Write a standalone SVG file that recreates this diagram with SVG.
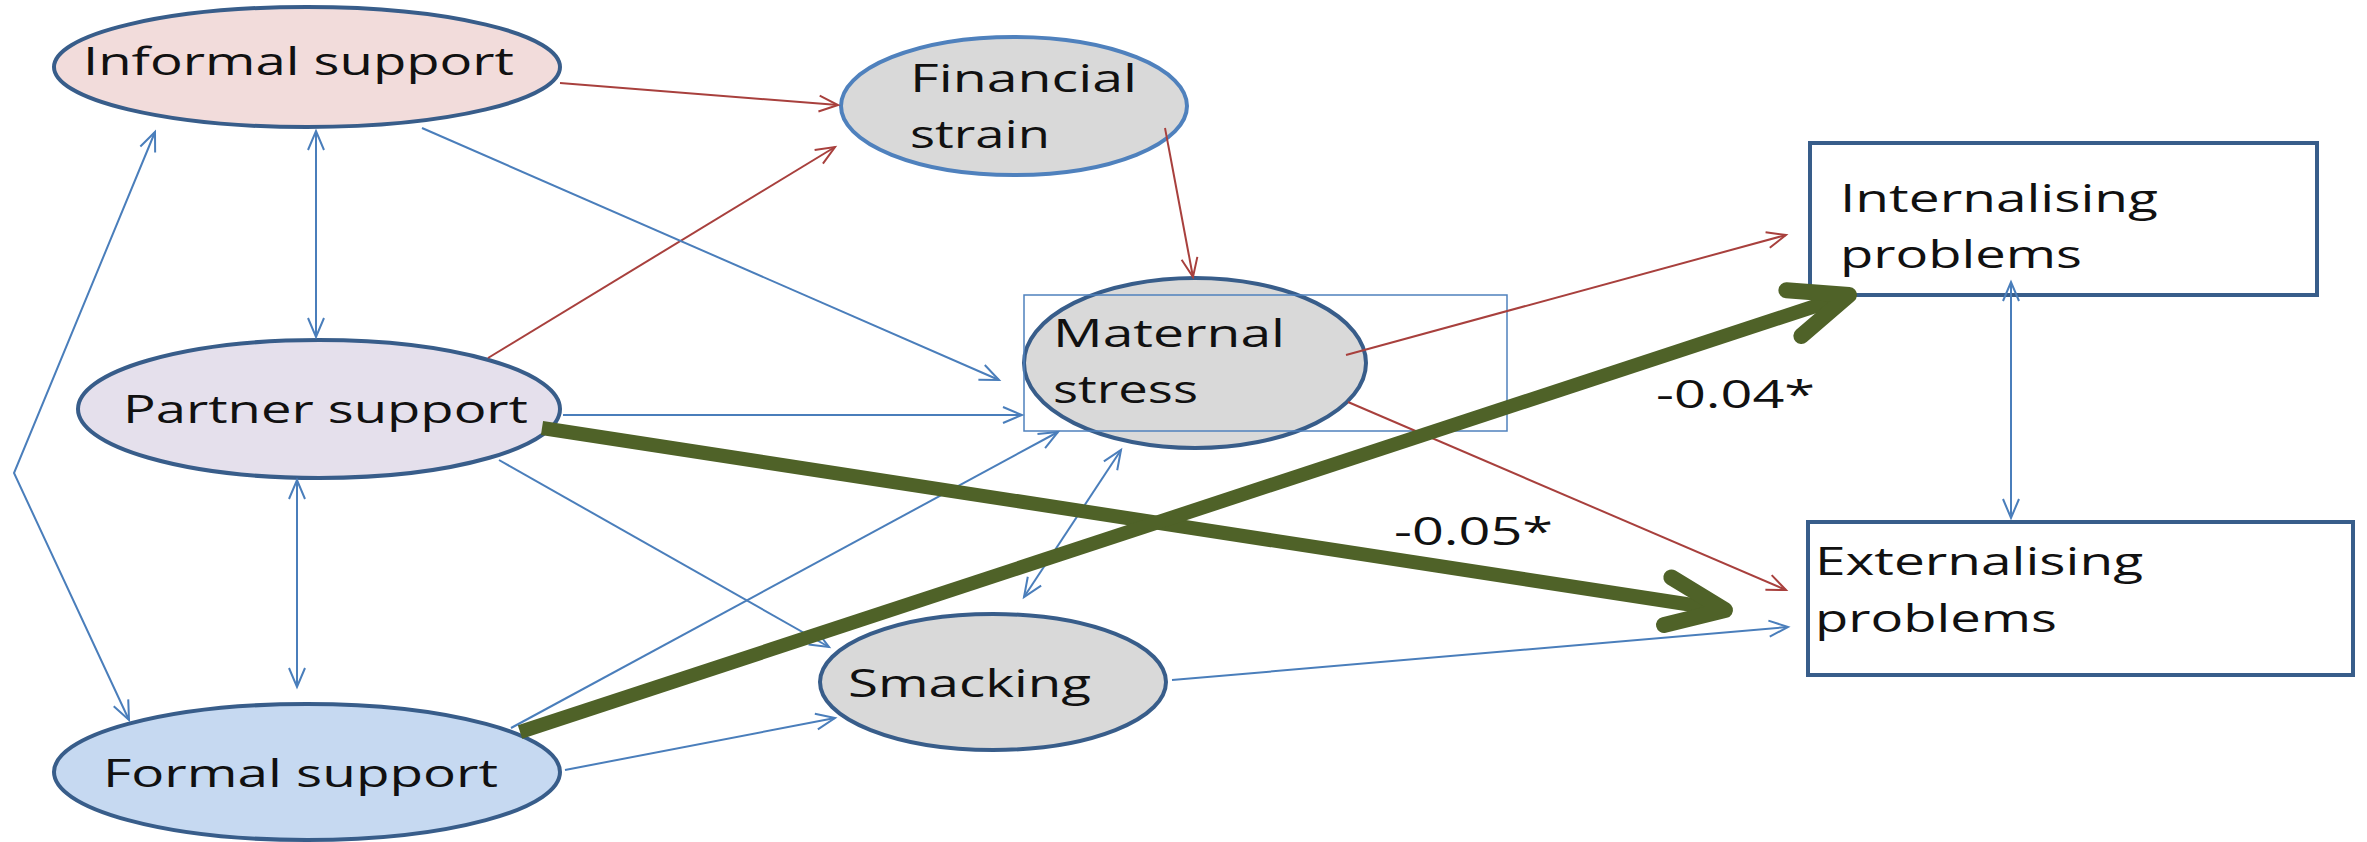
<svg xmlns="http://www.w3.org/2000/svg" width="2367" height="842" viewBox="0 0 2367 842">
<style>
.t{font-family:"Open Sans","Liberation Sans",sans-serif;font-size:38px;fill:#111}
.el{stroke:#385d8a;stroke-width:4}
.bl{fill:none;stroke:#4a7ebb;stroke-width:2}
.rd{fill:none;stroke:#a8403d;stroke-width:2}
.gr{fill:none;stroke:#4f6228;stroke-width:14}
</style>
<defs>
<marker id="ab" markerUnits="userSpaceOnUse" markerWidth="30" markerHeight="30" viewBox="-25 -15 30 30" refX="0" refY="0" orient="auto-start-reverse"><path d="M-19,-8 L0,0 L-19,8" fill="none" stroke="#4a7ebb" stroke-width="2"/></marker>
<marker id="ar" markerUnits="userSpaceOnUse" markerWidth="30" markerHeight="30" viewBox="-25 -15 30 30" refX="0" refY="0" orient="auto-start-reverse"><path d="M-19,-8 L0,0 L-19,8" fill="none" stroke="#a8403d" stroke-width="2"/></marker>
<marker id="ag" markerUnits="userSpaceOnUse" markerWidth="100" markerHeight="100" viewBox="-80 -50 100 100" refX="0" refY="0" orient="auto"><path d="M-58,-24 L0,0 L-58,24" fill="none" stroke="#4f6228" stroke-width="16" stroke-linecap="round" stroke-linejoin="round"/></marker>
</defs>
<rect width="2367" height="842" fill="#fff"/>
<g id="informal"><ellipse class="el" cx="307" cy="67" rx="253" ry="60" fill="#f2dcdb"/><text class="t" x="83" y="75" textLength="431" lengthAdjust="spacingAndGlyphs">Informal support</text></g>
<g id="partner"><ellipse class="el" cx="319" cy="409" rx="241" ry="69" fill="#e5e0ec"/><text class="t" x="123" y="423" textLength="405" lengthAdjust="spacingAndGlyphs">Partner support</text></g>
<g id="formal"><ellipse class="el" cx="307" cy="772" rx="253" ry="68" fill="#c6d9f1"/><text class="t" x="103" y="787" textLength="395" lengthAdjust="spacingAndGlyphs">Formal support</text></g>
<g id="financial"><ellipse cx="1014" cy="106" rx="173" ry="69" fill="#d9d9d9" stroke="#4f81bd" stroke-width="4"/><text class="t" x="910" y="92" textLength="227" lengthAdjust="spacingAndGlyphs">Financial</text><text class="t" x="910" y="148" textLength="140" lengthAdjust="spacingAndGlyphs">strain</text></g>
<g id="maternal"><ellipse class="el" cx="1195" cy="363" rx="171" ry="85" fill="#d9d9d9"/><rect x="1024" y="295" width="483" height="136" fill="none" stroke="#4f81bd" stroke-width="1.5"/><text class="t" x="1053" y="347" textLength="232" lengthAdjust="spacingAndGlyphs">Maternal</text><text class="t" x="1053" y="403" textLength="145" lengthAdjust="spacingAndGlyphs">stress</text></g>
<g id="smacking"><ellipse class="el" cx="993" cy="682" rx="173" ry="68" fill="#d9d9d9"/><text class="t" x="848" y="697" textLength="243" lengthAdjust="spacingAndGlyphs">Smacking</text></g>
<g id="internalising"><rect x="1810" y="143" width="507" height="152" fill="#fff" stroke="#385d8a" stroke-width="4"/><text class="t" x="1840" y="212" textLength="318" lengthAdjust="spacingAndGlyphs">Internalising</text><text class="t" x="1840" y="268" textLength="242" lengthAdjust="spacingAndGlyphs">problems</text></g>
<g id="externalising"><rect x="1808" y="522" width="545" height="153" fill="#fff" stroke="#385d8a" stroke-width="4"/><text class="t" x="1815" y="575" textLength="328" lengthAdjust="spacingAndGlyphs">Externalising</text><text class="t" x="1815" y="632" textLength="242" lengthAdjust="spacingAndGlyphs">problems</text></g>
<g id="connectors">
<path class="rd" d="M560,83 L838,105" marker-end="url(#ar)"/>
<path class="rd" d="M488,358 L835,147" marker-end="url(#ar)"/>
<path class="rd" d="M1165,128 L1193,277" marker-end="url(#ar)"/>
<path class="rd" d="M1346,355 L1786,235" marker-end="url(#ar)"/>
<path class="rd" d="M1348,402 L1786,590" marker-end="url(#ar)"/>
<path class="bl" d="M422,128 L999,380" marker-end="url(#ab)"/>
<path class="bl" d="M563,415 L1022,415" marker-end="url(#ab)"/>
<path class="bl" d="M511,728 L1058,432" marker-end="url(#ab)"/>
<path class="bl" d="M499,460 L829,647" marker-end="url(#ab)"/>
<path class="bl" d="M565,770 L835,718" marker-end="url(#ab)"/>
<path class="bl" d="M1172,680 L1788,627" marker-end="url(#ab)"/>
<path class="bl" d="M316,131 L316,337" marker-start="url(#ab)" marker-end="url(#ab)"/>
<path class="bl" d="M297,480 L297,687" marker-start="url(#ab)" marker-end="url(#ab)"/>
<path class="bl" d="M1121,450 L1024,597" marker-start="url(#ab)" marker-end="url(#ab)"/>
<path class="bl" d="M2011,282 L2011,518" marker-start="url(#ab)" marker-end="url(#ab)"/>
<path class="bl" d="M155,132 L14,473 L129,720" marker-start="url(#ab)" marker-end="url(#ab)"/>
<path class="gr" d="M542,428 L1725,610" marker-end="url(#ag)"/>
<path class="gr" d="M520,732 L1849,295" marker-end="url(#ag)"/>
<text class="t" x="1656" y="408" textLength="159" lengthAdjust="spacingAndGlyphs">-0.04*</text>
<text class="t" x="1394" y="545" textLength="159" lengthAdjust="spacingAndGlyphs">-0.05*</text>
</g>
</svg>
